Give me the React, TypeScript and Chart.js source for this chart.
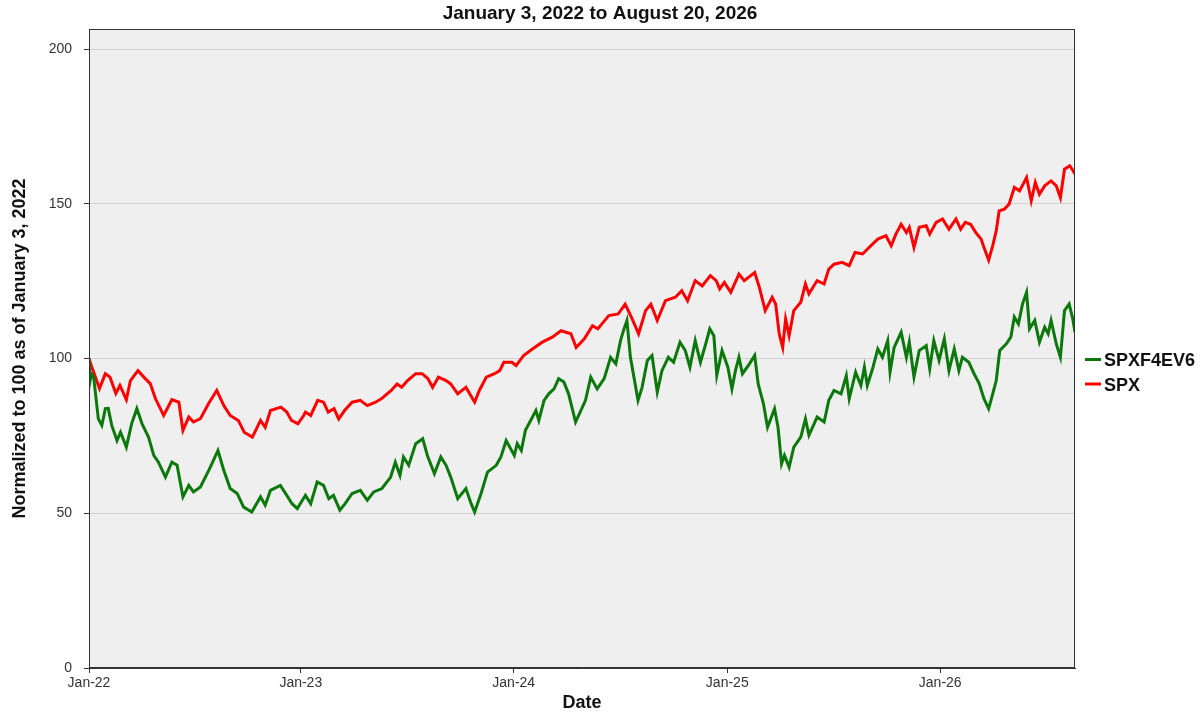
import { useEffect, useRef } from "react";
import { Chart, registerables } from "chart.js";

Chart.register(...registerables);

const chartTitle = "January 3, 2022 to August 20, 2026";
const yAxisTitle = "Normalized to 100 as of January 3, 2022";
const xAxisTitle = "Date";

const seriesNames = ["SPXF4EV6", "SPX"];
const seriesColors = ["#0b780b", "#ff0000"];

const startDate = "2022-01-03";
const endDate = "2026-08-20";

const xTickDates = ["2022-01-03", "2023-01-01", "2024-01-01", "2025-01-01", "2026-01-01"];
const xTickLabels = ["Jan-22", "Jan-23", "Jan-24", "Jan-25", "Jan-26"];
const yTickValues = [0, 50, 100, 150, 200];
const yMax = 206.5;

const fundDates = [
  "2022-01-03", "2022-01-05", "2022-01-07", "2022-01-11", "2022-01-19", "2022-01-25", "2022-01-31", "2022-02-05",
  "2022-02-11", "2022-02-20", "2022-02-26", "2022-03-08", "2022-03-17", "2022-03-26", "2022-04-04", "2022-04-15",
  "2022-04-24", "2022-05-02", "2022-05-14", "2022-05-25", "2022-06-03", "2022-06-13", "2022-06-23", "2022-07-01",
  "2022-07-13", "2022-07-30", "2022-08-12", "2022-08-22", "2022-09-02", "2022-09-14", "2022-09-25", "2022-10-09",
  "2022-10-24", "2022-11-01", "2022-11-10", "2022-11-27", "2022-12-08", "2022-12-17", "2022-12-26", "2023-01-09",
  "2023-01-18", "2023-01-29", "2023-02-09", "2023-02-18", "2023-02-26", "2023-03-09", "2023-03-18", "2023-03-30",
  "2023-04-13", "2023-04-25", "2023-05-06", "2023-05-20", "2023-06-04", "2023-06-12", "2023-06-20", "2023-06-26",
  "2023-07-05", "2023-07-17", "2023-07-29", "2023-08-06", "2023-08-18", "2023-08-29", "2023-09-07", "2023-09-15",
  "2023-09-27", "2023-10-11", "2023-10-20", "2023-10-26", "2023-11-06", "2023-11-17", "2023-12-02", "2023-12-10",
  "2023-12-19", "2024-01-02", "2024-01-07", "2024-01-14", "2024-01-21", "2024-01-30", "2024-02-08", "2024-02-13",
  "2024-02-22", "2024-03-01", "2024-03-10", "2024-03-18", "2024-03-27", "2024-04-04", "2024-04-16", "2024-04-25",
  "2024-05-03", "2024-05-12", "2024-05-23", "2024-06-04", "2024-06-15", "2024-06-24", "2024-07-02", "2024-07-08",
  "2024-07-13", "2024-07-19", "2024-07-25", "2024-08-01", "2024-08-08", "2024-08-17", "2024-08-25", "2024-09-03",
  "2024-09-11", "2024-09-22", "2024-10-01", "2024-10-12", "2024-10-21", "2024-10-29", "2024-11-07", "2024-11-16",
  "2024-11-25", "2024-12-02", "2024-12-09", "2024-12-14", "2024-12-23", "2025-01-02", "2025-01-09", "2025-01-15",
  "2025-01-21", "2025-01-27", "2025-02-08", "2025-02-17", "2025-02-23", "2025-03-04", "2025-03-11", "2025-03-23",
  "2025-03-29", "2025-04-04", "2025-04-09", "2025-04-17", "2025-04-25", "2025-05-07", "2025-05-15", "2025-05-21",
  "2025-06-04", "2025-06-16", "2025-06-24", "2025-07-03", "2025-07-15", "2025-07-24", "2025-07-29", "2025-08-09",
  "2025-08-18", "2025-08-24", "2025-08-29", "2025-09-07", "2025-09-16", "2025-09-24", "2025-10-03", "2025-10-07",
  "2025-10-14", "2025-10-26", "2025-11-04", "2025-11-09", "2025-11-17", "2025-11-26", "2025-12-08", "2025-12-14",
  "2025-12-21", "2025-12-30", "2026-01-08", "2026-01-16", "2026-01-25", "2026-02-02", "2026-02-08", "2026-02-19",
  "2026-02-28", "2026-03-09", "2026-03-17", "2026-03-25", "2026-04-01", "2026-04-07", "2026-04-13", "2026-04-24",
  "2026-05-02", "2026-05-08", "2026-05-15", "2026-05-22", "2026-05-29", "2026-06-03", "2026-06-12", "2026-06-20",
  "2026-06-29", "2026-07-05", "2026-07-10", "2026-07-19", "2026-07-26", "2026-08-02", "2026-08-10", "2026-08-16",
  "2026-08-20",
];
const fundValues = [
  100, 93, 95, 94, 80.5, 78.4, 83.8, 83.9,
  78.4, 73.5, 76.2, 71.4, 78.9, 83.8, 78.9, 74.6,
  68.7, 66.5, 61.7, 66.5, 65.5, 55.3, 59, 56.9,
  58.5, 64.9, 70.3, 63.9, 58, 56.4, 52, 50.4,
  55.3, 52.6, 57.4, 59, 55.8, 53.1, 51.5, 55.8,
  53.1, 60.1, 59, 54.7, 55.8, 51, 53.1, 56.4,
  57.4, 54.2, 56.9, 58, 61.7, 66.5, 62.3, 68.2,
  65.5, 72.5, 74.1, 68.7, 62.8, 68.2, 65.5, 61.7,
  54.7, 58, 53.1, 50.4, 56.4, 63.3, 65.5, 68.2,
  73.5, 68.7, 72.5, 70.3, 76.8, 80, 83.2, 80,
  86.5, 88.6, 90.2, 93.5, 92.4, 88.6, 79.5, 83.2,
  86.5, 94, 90.2, 93.5, 100.4, 98.3, 105.8, 109.6,
  112.3, 100.4, 94, 86.5, 90.7, 99.4, 101, 89.2,
  96.1, 100.4, 98.8, 105.3, 102.6, 97.2, 105.8, 98.8,
  104.7, 109.6, 107.4, 94.5, 102.6, 97.2, 90.2, 96.1,
  100.4, 95.1, 98.3, 101, 91.8, 85.4, 77.8, 83.8,
  77.8, 66, 68.7, 64.9, 71.4, 74.6, 80.5, 75.2,
  81.1, 79.5, 86.5, 89.7, 88.6, 94.5, 87, 95.6,
  91.3, 97.2, 91.3, 96.7, 103.1, 100.4, 105.8, 95.6,
  103.6, 108.5, 100.4, 105.3, 94, 102.6, 104.2, 96.7,
  105.8, 99.4, 106.4, 96.1, 103.1, 96.1, 100.4, 98.8,
  95.1, 91.8, 87, 83.8, 88.6, 92.9, 102.6, 104.7,
  106.9, 113.4, 111.2, 117.6, 121.4, 109.6, 112.3, 105.3,
  110.1, 108, 112.3, 104.7, 100.4, 115.5, 117.6, 113,
  108.5,
];

const spxDates = [
  "2022-01-03", "2022-01-07", "2022-01-21", "2022-01-31", "2022-02-08", "2022-02-18", "2022-02-25", "2022-03-08",
  "2022-03-15", "2022-03-28", "2022-04-07", "2022-04-18", "2022-04-27", "2022-05-11", "2022-05-25", "2022-06-06",
  "2022-06-13", "2022-06-23", "2022-07-01", "2022-07-13", "2022-07-27", "2022-08-10", "2022-08-22", "2022-09-02",
  "2022-09-16", "2022-09-26", "2022-10-10", "2022-10-24", "2022-11-01", "2022-11-10", "2022-11-28", "2022-12-08",
  "2022-12-16", "2022-12-27", "2023-01-06", "2023-01-09", "2023-01-18", "2023-01-30", "2023-02-09", "2023-02-17",
  "2023-02-27", "2023-03-07", "2023-03-17", "2023-03-30", "2023-04-13", "2023-04-25", "2023-05-09", "2023-05-19",
  "2023-06-05", "2023-06-15", "2023-06-23", "2023-07-03", "2023-07-17", "2023-07-28", "2023-08-07", "2023-08-15",
  "2023-08-25", "2023-09-07", "2023-09-15", "2023-09-27", "2023-10-11", "2023-10-26", "2023-11-03", "2023-11-15",
  "2023-11-29", "2023-12-08", "2023-12-15", "2023-12-29", "2024-01-05", "2024-01-18", "2024-02-02", "2024-02-19",
  "2024-03-07", "2024-03-22", "2024-04-08", "2024-04-17", "2024-05-01", "2024-05-15", "2024-05-24", "2024-06-12",
  "2024-06-28", "2024-07-10", "2024-07-22", "2024-08-02", "2024-08-14", "2024-08-23", "2024-09-03", "2024-09-17",
  "2024-10-04", "2024-10-15", "2024-10-25", "2024-11-07", "2024-11-19", "2024-12-03", "2024-12-13", "2024-12-19",
  "2024-12-27", "2025-01-07", "2025-01-21", "2025-01-30", "2025-02-17", "2025-02-25", "2025-03-07", "2025-03-19",
  "2025-03-25", "2025-03-31", "2025-04-06", "2025-04-11", "2025-04-17", "2025-04-25", "2025-05-07", "2025-05-15",
  "2025-05-21", "2025-06-04", "2025-06-16", "2025-06-24", "2025-07-03", "2025-07-17", "2025-07-29", "2025-08-08",
  "2025-08-21", "2025-09-01", "2025-09-16", "2025-09-30", "2025-10-09", "2025-10-17", "2025-10-26", "2025-11-04",
  "2025-11-09", "2025-11-17", "2025-11-26", "2025-12-08", "2025-12-14", "2025-12-25", "2026-01-05", "2026-01-16",
  "2026-01-28", "2026-02-05", "2026-02-13", "2026-02-22", "2026-03-03", "2026-03-12", "2026-03-17", "2026-03-25",
  "2026-04-01", "2026-04-07", "2026-04-12", "2026-04-21", "2026-04-29", "2026-05-08", "2026-05-17", "2026-05-29",
  "2026-06-06", "2026-06-13", "2026-06-20", "2026-06-29", "2026-07-10", "2026-07-19", "2026-07-26", "2026-08-02",
  "2026-08-11", "2026-08-17", "2026-08-20",
];
const spxValues = [
  100, 97.7, 90.3, 95.1, 94, 88.7, 91.3, 86.7,
  92.9, 96.1, 94, 91.9, 87, 81.6, 86.7, 85.9,
  76.8, 81.1, 79.5, 80.6, 85.5, 89.7, 84.8, 81.6,
  80, 76.2, 74.6, 80, 77.8, 83.2, 84.3, 82.7,
  80, 78.9, 81.6, 82.7, 81.6, 86.5, 85.9, 82.7,
  83.8, 80.5, 83.2, 85.9, 86.5, 84.8, 85.9, 87,
  89.7, 91.8, 90.7, 92.9, 95.1, 95.1, 93.5, 90.7,
  94, 92.9, 91.8, 88.6, 90.7, 85.9, 89.7, 94,
  95.1, 96.1, 98.8, 98.8, 97.7, 101, 103.1, 105.3,
  106.9, 109, 108, 103.6, 106.4, 110.6, 109.6, 113.9,
  114.4, 117.6, 112.8, 108, 115.5, 117.6, 112.3, 118.7,
  119.8, 121.9, 118.7, 125.2, 123.5, 126.8, 125.2, 122.5,
  124.6, 121.4, 127.3, 125.2, 127.8, 123, 115.5, 119.8,
  117.6, 108, 103.6, 112.8, 107.4, 115.5, 118.2, 124.1,
  120.9, 125.2, 124.1, 128.9, 130.5, 131.1, 130, 134.3,
  133.8, 135.9, 138.6, 139.7, 136.5, 140.2, 143.4, 140.7,
  142.4, 135.9, 142.4, 142.9, 140.2, 144, 145.1, 141.8,
  145.1, 141.8, 144, 143.4, 140.7, 138.6, 135.9, 131.8,
  136.5, 141.3, 147.7, 148.3, 149.9, 155.3, 154.2, 158.5,
  151, 156.9, 153.1, 155.8, 157.4, 155.8, 152, 161.2,
  162.3, 160.6, 159.6,
];

const dayNum = (s: string) => {
  const [y, m, d] = s.split("-").map(Number);
  return (Date.UTC(y, m - 1, d) - Date.UTC(2022, 0, 1)) / 86400000;
};

const toPoints = (dates: string[], values: number[]) =>
  dates.map((d, i) => ({ x: dayNum(d), y: values[i] }));

const FONT = '"Liberation Sans", Arial, Helvetica, sans-serif';

const framePlugin = {
  id: "frameAndLabels",
  beforeDraw(chart: any) {
    const { ctx, chartArea } = chart;
    ctx.save();
    ctx.fillStyle = "#efefef";
    ctx.fillRect(chartArea.left, chartArea.top, chartArea.right - chartArea.left, chartArea.bottom - chartArea.top);
    ctx.restore();
  },
  afterDraw(chart: any) {
    const { ctx, chartArea } = chart;
    ctx.save();
    // frame
    ctx.strokeStyle = "#333333";
    ctx.lineWidth = 1;
    ctx.strokeRect(
      Math.round(chartArea.left) + 0.5,
      Math.round(chartArea.top) + 0.5,
      Math.round(chartArea.right - chartArea.left) - 1,
      Math.round(chartArea.bottom - chartArea.top) - 1
    );
    // title
    ctx.fillStyle = "#111111";
    ctx.font = `bold 19px ${FONT}`;
    ctx.textAlign = "center";
    ctx.textBaseline = "alphabetic";
    ctx.fillText(chartTitle, chart.width / 2, 18.5);
    // legend
    const baselines = [366, 390.5];
    chart.data.datasets.forEach((ds: any, i: number) => {
      const yb = baselines[i];
      ctx.strokeStyle = ds.borderColor;
      ctx.lineWidth = 3;
      ctx.beginPath();
      ctx.moveTo(chartArea.right + 10, yb - 6.5);
      ctx.lineTo(chartArea.right + 26, yb - 6.5);
      ctx.stroke();
      ctx.fillStyle = "#111111";
      ctx.font = `bold 18px ${FONT}`;
      ctx.textAlign = "left";
      ctx.fillText(ds.label, chartArea.right + 29, yb);
    });
    ctx.restore();
  },
};

export default function App() {
  const ref = useRef<HTMLCanvasElement>(null);

  useEffect(() => {
    document.body.style.margin = "0";
    Chart.defaults.font.family = FONT;
    const chart = new Chart(ref.current as HTMLCanvasElement, {
      type: "line",
      data: {
        datasets: [
          {
            label: seriesNames[0],
            data: toPoints(fundDates, fundValues),
            borderColor: seriesColors[0],
            backgroundColor: seriesColors[0],
            borderWidth: 3,
            pointRadius: 0,
            tension: 0,
          },
          {
            label: seriesNames[1],
            data: toPoints(spxDates, spxValues),
            borderColor: seriesColors[1],
            backgroundColor: seriesColors[1],
            borderWidth: 3,
            pointRadius: 0,
            tension: 0,
          },
        ],
      },
      plugins: [framePlugin],
      options: {
        responsive: false,
        animation: false,
        layout: { padding: { left: 0, right: 125, top: 29, bottom: 0 } },
        plugins: {
          legend: { display: false },
          title: { display: false },
          tooltip: { enabled: false },
        },
        scales: {
          x: {
            type: "linear",
            min: dayNum(startDate),
            max: dayNum(endDate),
            afterBuildTicks: (s: any) => {
              s.ticks = xTickDates.map((d) => ({ value: dayNum(d) }));
            },
            afterFit: (s: any) => {
              s.height = 52;
            },
            grid: { drawOnChartArea: false, drawTicks: true, tickLength: 5, tickColor: "#333333" },
            border: { display: true, color: "#333333" },
            ticks: {
              autoSkip: false,
              maxRotation: 0,
              padding: 2,
              color: "#333333",
              font: { size: 14 },
              callback: (_v: any, i: number) => xTickLabels[i],
            },
            title: {
              display: true,
              text: xAxisTitle,
              color: "#111111",
              font: { size: 18, weight: "bold" },
              padding: { top: 0, bottom: 6 },
            },
          },
          y: {
            min: 0,
            max: yMax,
            afterBuildTicks: (s: any) => {
              s.ticks = yTickValues.map((v) => ({ value: v }));
            },
            afterFit: (s: any) => {
              s.width = 89;
            },
            grid: { color: "#d2d2d2", tickColor: "#333333", drawTicks: true, tickLength: 5 },
            border: { display: true, color: "#333333" },
            ticks: { padding: 12, color: "#333333", font: { size: 14 } },
            title: {
              display: true,
              text: yAxisTitle,
              color: "#111111",
              font: { size: 18, weight: "bold" },
              padding: { top: 9, bottom: 0 },
            },
          },
        },
      },
    } as any);
    return () => chart.destroy();
  }, []);

  return (
    <div style={{ width: 1200, height: 720 }}>
      <canvas ref={ref} width={1200} height={720} style={{ display: "block", width: 1200, height: 720 }} />
    </div>
  );
}
